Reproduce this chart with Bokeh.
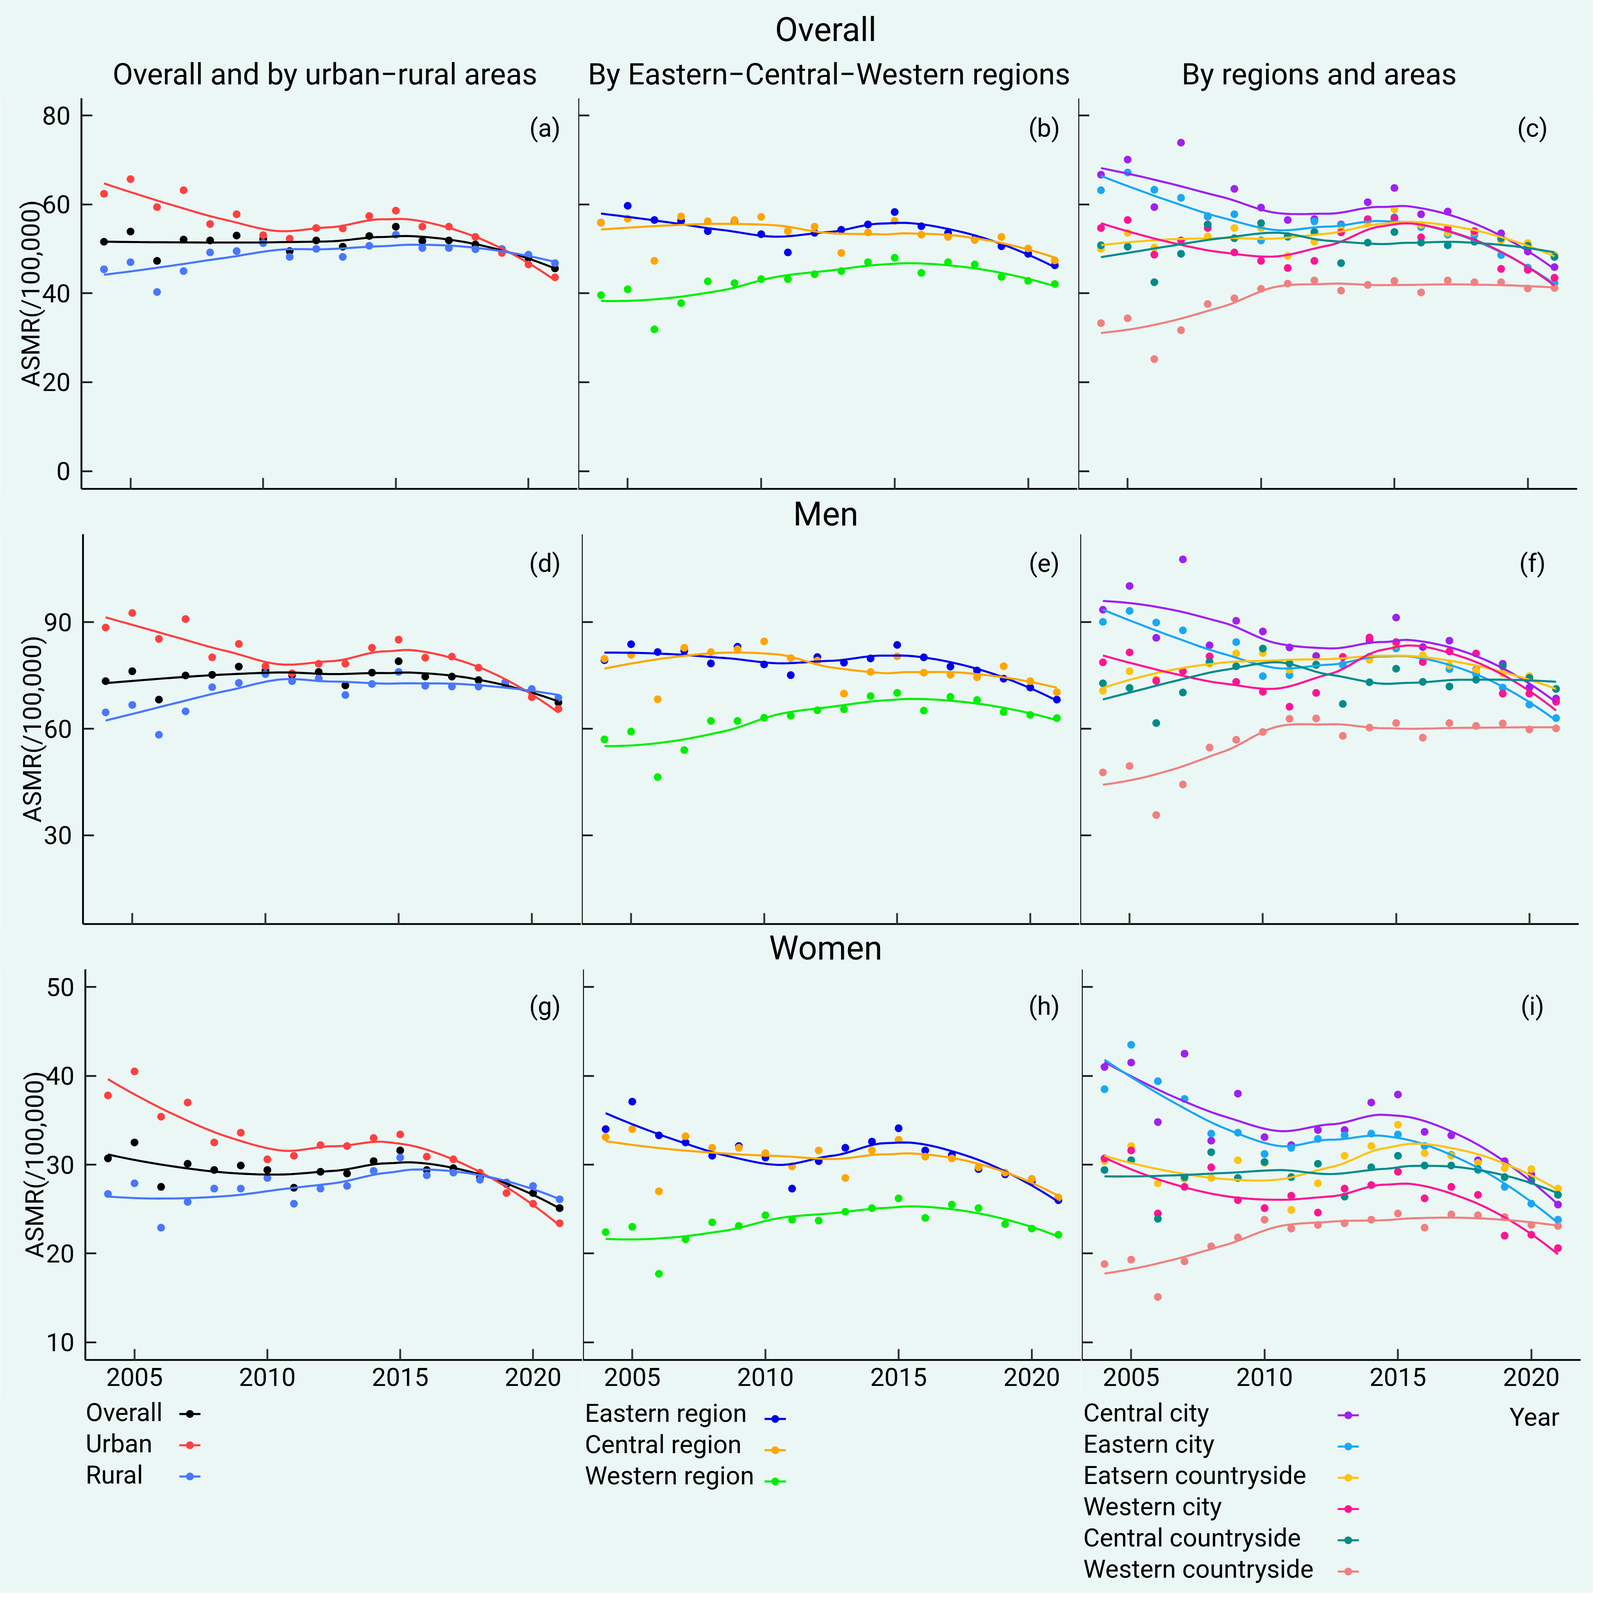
import numpy as np
from bokeh.plotting import figure
from bokeh.layouts import column, row
from bokeh.models import Range1d, FixedTicker
from bokeh.core.properties import value
from bokeh.embed import file_html
from bokeh.resources import INLINE

# ---------------- data ----------------
years = list(range(2004, 2022))

# Overall (both sexes)
a_overall = [51.6, 53.9, 47.3, 52.1, 51.9, 53.0, 52.2, 49.5, 51.9, 50.5, 52.9, 55.0, 51.8, 51.9, 51.0, 49.5, 48.0, 45.6]
a_urban = [62.4, 65.7, 59.4, 63.2, 55.6, 57.8, 53.1, 52.3, 54.7, 54.6, 57.4, 58.6, 55.0, 55.0, 52.7, 49.1, 46.5, 43.6]
a_rural = [45.4, 47.0, 40.3, 45.0, 49.2, 49.5, 51.3, 48.2, 50.0, 48.2, 50.7, 53.2, 50.2, 50.2, 49.9, 50.0, 48.7, 46.8]

b_east = [55.9, 59.7, 56.5, 56.3, 54.0, 56.3, 53.3, 49.2, 53.6, 54.3, 55.5, 58.3, 55.1, 53.6, 52.2, 50.6, 48.9, 46.3]
b_central = [55.9, 56.8, 47.3, 57.3, 56.2, 56.5, 57.2, 54.0, 55.0, 49.1, 53.7, 56.3, 53.2, 52.7, 52.0, 52.7, 50.1, 47.4]
b_west = [39.6, 40.9, 31.9, 37.8, 42.7, 42.3, 43.2, 43.2, 44.3, 45.0, 47.0, 48.0, 44.6, 47.0, 46.5, 43.7, 42.8, 42.1]

c_central_city = [66.7, 70.1, 59.4, 73.9, 57.3, 63.5, 59.3, 56.5, 56.7, 55.5, 60.5, 63.7, 57.8, 58.4, 53.2, 53.5, 49.4, 45.9]
c_eastern_city = [63.2, 67.2, 63.3, 61.5, 57.4, 57.8, 51.9, 52.7, 56.2, 55.3, 56.5, 57.1, 54.9, 53.2, 53.1, 48.6, 45.8, 42.3]
c_eastern_country = [50.0, 53.6, 50.3, 51.9, 52.8, 54.7, 54.7, 48.4, 51.6, 54.2, 55.7, 58.9, 55.4, 53.6, 53.8, 51.9, 51.3, 48.6]
c_western_city = [54.7, 56.5, 48.7, 51.9, 54.7, 49.2, 47.3, 45.7, 47.3, 53.7, 56.7, 56.9, 52.6, 54.6, 54.0, 45.5, 45.3, 43.5]
c_central_country = [50.8, 50.5, 42.5, 48.9, 55.5, 52.4, 55.8, 52.9, 53.8, 46.8, 51.4, 53.8, 51.4, 50.8, 51.6, 52.4, 50.7, 48.2]
c_western_country = [33.3, 34.4, 25.2, 31.7, 37.6, 38.9, 41.0, 42.2, 42.9, 40.6, 41.9, 42.8, 40.2, 42.9, 42.5, 42.5, 41.1, 41.2]

# Men
d_overall = [73.4, 76.2, 68.2, 75.0, 75.2, 77.5, 76.4, 75.1, 76.0, 72.2, 75.8, 79.0, 74.7, 74.7, 73.7, 72.7, 70.4, 67.4]
d_urban = [88.5, 92.6, 85.3, 90.9, 80.1, 83.9, 77.6, 75.6, 78.3, 78.3, 82.8, 85.1, 80.0, 80.3, 77.2, 73.0, 68.9, 65.6]
d_rural = [64.6, 66.7, 58.3, 64.9, 71.7, 72.9, 75.4, 73.4, 74.2, 69.5, 72.6, 76.0, 72.1, 71.9, 71.9, 73.0, 71.2, 68.7]

e_east = [79.3, 83.8, 81.6, 81.9, 78.4, 83.1, 78.1, 75.1, 80.2, 78.6, 79.8, 83.6, 80.1, 77.5, 76.4, 74.1, 71.6, 68.2]
e_central = [79.7, 80.8, 68.3, 82.8, 81.6, 82.4, 84.6, 79.9, 79.2, 69.9, 76.0, 80.4, 75.8, 75.2, 74.5, 77.6, 73.4, 70.3]
e_west = [57.0, 59.2, 46.4, 54.0, 62.2, 62.2, 63.1, 63.7, 65.2, 65.5, 69.2, 70.1, 65.1, 69.0, 68.1, 64.7, 63.9, 63.0]

f_central_city = [93.5, 100.2, 85.6, 107.7, 83.5, 90.4, 87.4, 82.9, 80.5, 78.1, 84.9, 91.3, 83.0, 84.8, 76.6, 78.3, 71.6, 68.5]
f_eastern_city = [90.1, 93.2, 89.9, 87.7, 78.8, 84.4, 74.8, 75.1, 78.1, 78.0, 80.3, 82.6, 80.3, 76.8, 75.3, 71.6, 66.8, 63.0]
f_eastern_country = [70.7, 76.2, 73.9, 76.2, 78.3, 81.2, 81.3, 76.6, 77.9, 80.3, 79.4, 83.6, 80.7, 77.8, 76.4, 75.6, 74.8, 71.2]
f_western_city = [78.7, 81.5, 73.5, 76.2, 80.4, 73.2, 70.4, 66.2, 70.1, 80.2, 85.7, 84.4, 78.8, 81.8, 81.2, 69.9, 69.9, 67.6]
f_central_country = [72.8, 71.5, 61.6, 70.2, 78.8, 77.6, 82.6, 78.4, 78.0, 67.0, 73.1, 76.9, 73.2, 71.9, 73.8, 77.6, 74.3, 71.2]
f_western_country = [47.7, 49.5, 35.7, 44.3, 54.7, 56.9, 59.1, 62.8, 62.9, 58.0, 60.3, 61.6, 57.5, 61.6, 60.8, 61.5, 59.8, 60.1]

# Women
g_overall = [30.7, 32.5, 27.5, 30.1, 29.4, 29.9, 29.4, 27.4, 29.2, 29.0, 30.4, 31.6, 29.4, 29.6, 28.5, 27.8, 26.8, 25.1]
g_urban = [37.8, 40.5, 35.4, 37.0, 32.5, 33.6, 30.6, 31.0, 32.2, 32.1, 33.0, 33.4, 30.9, 30.6, 29.1, 26.8, 25.6, 23.4]
g_rural = [26.7, 27.9, 22.9, 25.8, 27.3, 27.3, 28.5, 25.6, 27.3, 27.6, 29.3, 30.8, 28.8, 29.1, 28.3, 28.0, 27.6, 26.1]

h_east = [34.0, 37.1, 33.3, 32.5, 31.0, 32.1, 30.8, 27.3, 30.4, 31.9, 32.6, 34.1, 31.6, 31.1, 29.5, 28.9, 28.1, 26.0]
h_central = [33.1, 34.0, 27.0, 33.2, 31.9, 31.9, 31.3, 29.8, 31.6, 28.5, 31.6, 32.8, 30.9, 30.7, 29.7, 29.1, 28.4, 26.3]
h_west = [22.4, 23.0, 17.7, 21.6, 23.5, 23.1, 24.3, 23.8, 23.7, 24.7, 25.1, 26.2, 24.0, 25.5, 25.1, 23.3, 22.8, 22.1]

i_central_city = [41.0, 41.5, 34.8, 42.5, 32.7, 38.0, 33.1, 32.2, 33.9, 33.9, 37.0, 37.9, 33.7, 33.3, 30.5, 30.4, 28.9, 25.5]
i_eastern_city = [38.5, 43.5, 39.4, 37.4, 33.5, 33.6, 31.2, 31.9, 32.9, 33.3, 33.5, 33.4, 32.1, 31.1, 29.4, 27.5, 25.6, 23.8]
i_eastern_country = [30.4, 32.1, 27.9, 28.4, 28.5, 30.5, 30.2, 24.9, 27.9, 31.0, 32.1, 34.5, 31.3, 31.0, 30.2, 29.6, 29.5, 27.3]
i_western_city = [30.7, 31.6, 24.5, 27.5, 29.7, 26.0, 25.1, 26.5, 24.6, 27.3, 27.7, 29.2, 26.2, 27.5, 26.6, 22.0, 22.1, 20.6]
i_central_country = [29.4, 30.5, 23.9, 28.6, 31.4, 28.5, 30.3, 28.6, 30.1, 26.4, 29.7, 31.0, 29.9, 29.9, 29.5, 28.6, 28.2, 26.6]
i_western_country = [18.8, 19.3, 15.1, 19.1, 20.8, 21.8, 23.8, 22.8, 23.2, 23.4, 23.8, 24.5, 22.9, 24.4, 24.3, 24.1, 23.2, 23.1]

names_urban = ["Overall", "Urban", "Rural"]
names_region = ["Eastern region", "Central region", "Western region"]
names_area = ["Central city", "Eastern city", "Eatsern countryside", "Western city",
              "Central countryside", "Western countryside"]

row_titles = ["Overall", "Men", "Women"]
col_titles = ["Overall and by urban\u2212rural areas", "By Eastern\u2212Central\u2212Western regions",
              "By regions and areas"]
tags = [["(a)", "(b)", "(c)"], ["(d)", "(e)", "(f)"], ["(g)", "(h)", "(i)"]]
x_ticks = [2005, 2010, 2015, 2020]
y_ticks = [[0, 20, 40, 60, 80], [30, 60, 90], [10, 20, 30, 40, 50]]
y_limits = [(-3.995, 83.895), (5.01, 114.79), (8.0, 52.0)]
x_limits = (2003.15, 2021.85)
y_title = "ASMR(/100,000)"
x_title = "Year"

panel_series = [
    [[a_overall, a_urban, a_rural], [b_east, b_central, b_west],
     [c_central_city, c_eastern_city, c_eastern_country, c_western_city, c_central_country, c_western_country]],
    [[d_overall, d_urban, d_rural], [e_east, e_central, e_west],
     [f_central_city, f_eastern_city, f_eastern_country, f_western_city, f_central_country, f_western_country]],
    [[g_overall, g_urban, g_rural], [h_east, h_central, h_west],
     [i_central_city, i_eastern_city, i_eastern_country, i_western_city, i_central_country, i_western_country]],
]

# ---------------- style ----------------
BG = "#EAF7F5"
FONT = "Roboto"
C_URBAN = ["#000000", "#FF4040", "#4876FF"]
C_REGION = ["#0000EE", "#FFA500", "#00EE00"]
C_AREA = ["#A020F0", "#1AA7F5", "#FFC20E", "#FF1493", "#008B8B", "#F08080"]
COLORS = [C_URBAN, C_REGION, C_AREA]
NAMES = [names_urban, names_region, names_area]

# The screenshot is taken at 1.5 device pixels per CSS pixel.
K = 1.5
ORIG = 8 * K          # page margin in screenshot pixels
TOTAL = 6142


def px(v):
    return v / K


def ipx(v):
    return int(round(v / K))


def fs(v):
    return "%.1fpx" % (v / K)


FS = fs(97)
FS_COL = fs(114)
FS_ROW = fs(128)
PT = px(30)
LW = px(8)
AXW = px(7)
TICK = ipx(42)

# layout geometry in screenshot pixels
GEOM = [
    dict(L=324, B1=2232, B2=4152, R=6068, top=389, bottom=1889, bb=20, tagdy=115),
    dict(L=330, B1=2245, B2=4159, R=6073, top=2062, bottom=3560, bb=20, tagdy=112),
    dict(L=339, B1=2250, B2=4166, R=6081, top=3733, bottom=5233, bb=144, tagdy=142),
]
TAG_X = [2104, 4021, 5896]
WC = int((TOTAL - 2 * ORIG) / K)     # layout width in CSS px


def cpos(v):
    """screenshot x/y -> CSS offset from layout origin"""
    return int(round((v - ORIG) / K))


def spos(c):
    """CSS offset -> screenshot pixel"""
    return ORIG + c * K


def loess_fit(x, y, x0, q):
    d = np.abs(x - x0)
    h = np.sort(d)[q - 1]
    u = np.clip(d / h, 0, 1)
    w = (1 - u ** 3) ** 3
    X = np.vstack([np.ones(len(x)), x - x0, (x - x0) ** 2]).T
    XtW = X.T * w
    beta = np.linalg.solve(XtW @ X, XtW @ y)
    return beta[0], beta[1]


def kd_vertices(xs_sorted, fc):
    cuts = []

    def split(l, u):
        if u - l + 1 <= fc:
            return
        m = (l + u) // 2
        v = (xs_sorted[m] + xs_sorted[m + 1]) / 2.0
        cuts.append(v)
        split(l, m)
        split(m + 1, u)

    split(0, len(xs_sorted) - 1)
    lo, hi = xs_sorted[0], xs_sorted[-1]
    mu = 0.005 * (hi - lo)
    return np.array(sorted([lo - mu] + cuts + [hi + mu]))


def loess(x, y, xs, span=0.75, cell=0.2):
    # loess (degree 2) evaluated on kd-tree vertices with cubic Hermite interpolation
    x = np.asarray(x, float)
    y = np.asarray(y, float)
    n = len(x)
    q = int(np.floor(span * n))
    fc = int(np.floor(n * span * cell))
    verts = kd_vertices(np.sort(x), fc)
    vals = np.array([loess_fit(x, y, v, q) for v in verts])
    out = np.empty(len(xs))
    for i, xx in enumerate(xs):
        j = min(max(np.searchsorted(verts, xx) - 1, 0), len(verts) - 2)
        a, b = verts[j], verts[j + 1]
        hh = b - a
        t = (xx - a) / hh
        f0, d0 = vals[j]
        f1, d1 = vals[j + 1]
        h00 = 2 * t ** 3 - 3 * t ** 2 + 1
        h10 = t ** 3 - 2 * t ** 2 + t
        h01 = -2 * t ** 3 + 3 * t ** 2
        h11 = t ** 3 - t ** 2
        out[i] = h00 * f0 + h10 * hh * d0 + h01 * f1 + h11 * hh * d1
    return out


xs_fine = np.linspace(years[0], years[-1], 80)


def make_panel(r, c):
    g = GEOM[r]
    Lc, B1c, B2c, Rc = cpos(g["L"]), cpos(g["B1"]), cpos(g["B2"]), cpos(g["R"])
    topc, botc = cpos(g["top"]), cpos(g["bottom"])
    if c == 0:
        flc, frc, mbl, mbr = Lc, B1c - 2, Lc, 0
    elif c == 1:
        flc, frc, mbl, mbr = B1c, B2c - 2, 2, 0
    else:
        flc, frc, mbl, mbr = B2c, Rc, 2, WC - Rc
    fw = frc - flc
    fh = botc - topc
    y0, y1 = y_limits[r]
    p = figure(title=None, frame_width=fw, frame_height=fh,
               x_range=Range1d(*x_limits), y_range=Range1d(y0, y1),
               min_border_left=mbl, min_border_right=mbr,
               min_border_top=0, min_border_bottom=ipx(g["bb"]),
               output_backend="svg", toolbar_location=None,
               background_fill_color=BG, border_fill_color=BG,
               outline_line_color=None)
    p.grid.visible = False

    xa = p.xaxis[0]
    xa.ticker = FixedTicker(ticks=x_ticks)
    xa.axis_line_width = AXW
    xa.axis_line_color = "black"
    xa.major_tick_in = TICK
    xa.major_tick_out = 0
    xa.major_tick_line_width = AXW
    xa.major_tick_line_color = "#333333"
    xa.minor_tick_line_color = None
    if r == 2:
        xa.major_label_text_font = FONT
        xa.major_label_text_font_size = FS
        xa.major_label_text_color = "black"
        xa.major_label_standoff = ipx(30)
    else:
        xa.major_label_overrides = {t: "" for t in x_ticks}
        xa.major_label_text_font_size = "0px"
        xa.major_label_standoff = 0

    ya = p.yaxis[0]
    ya.ticker = FixedTicker(ticks=y_ticks[r])
    ya.axis_line_width = AXW
    ya.axis_line_color = "black"
    ya.major_tick_in = TICK
    ya.major_tick_out = 0
    ya.major_tick_line_width = AXW
    ya.major_tick_line_color = "#1a1a1a"
    ya.minor_tick_line_color = None
    if c == 0:
        ya.major_label_text_font = FONT
        ya.major_label_text_font_size = FS
        ya.major_label_text_color = "black"
        ya.major_label_standoff = ipx(42)
        ya.axis_label = y_title
        ya.axis_label_text_font = FONT
        ya.axis_label_text_font_size = FS
        ya.axis_label_text_font_style = "normal"
        ya.axis_label_text_color = "black"
        ya.axis_label_standoff = -12
    else:
        ya.fixed_location = x_limits[0]
        ya.major_label_overrides = {t: "" for t in y_ticks[r]}
        ya.major_label_text_font_size = "0px"
        ya.major_label_standoff = 0

    series = panel_series[r][c]
    cols = COLORS[c]
    for vals, col in zip(series, cols):
        p.scatter(years, vals, size=PT, color=col, line_color=None)
    for vals, col in zip(series, cols):
        p.line(xs_fine, loess(years, vals, xs_fine), line_color=col, line_width=LW)

    fl_s, fr_s = spos(flc), spos(frc)
    tx = x_limits[0] + (TAG_X[c] - fl_s) / (fr_s - fl_s) * (x_limits[1] - x_limits[0])
    ty = y1 - g["tagdy"] / (g["bottom"] - g["top"]) * (y1 - y0)
    p.text(x=[tx], y=[ty], text=[tags[r][c]], text_font=value(FONT), text_font_size=FS,
           text_align="center", text_baseline="middle", text_color="black")
    return p


def band(top_c, bot_c):
    """band spanning CSS rows top_c..bot_c; data coordinates are screenshot pixels"""
    y_top, y_bot = spos(top_c), spos(bot_c)
    b = figure(title=None, width=WC, height=bot_c - top_c,
               x_range=Range1d(ORIG, spos(WC)), y_range=Range1d(y_bot, y_top),
               x_axis_type=None, y_axis_type=None, min_border=0,
               output_backend="svg", toolbar_location=None,
               background_fill_color=BG, border_fill_color=BG,
               outline_line_color=None)
    b.grid.visible = False
    return b


def add_text(b, x, y_mid, txt, size, align="center"):
    b.text(x=[x], y=[y_mid], text=[txt], text_font=value(FONT), text_font_size=size,
           text_align=align, text_baseline="middle", text_color="black")


row_tops = [cpos(g["top"]) for g in GEOM]
row_ends = [cpos(g["bottom"]) + ipx(g["bb"]) for g in GEOM]

# vertical centres (of capital letters) in screenshot pixels
top_band = band(0, row_tops[0])
add_text(top_band, 3182, 125, row_titles[0], FS_ROW)
for cx, t in zip([1259, 3195, 5077], col_titles):
    add_text(top_band, cx, 296, t, FS_COL)

men_band = band(row_ends[0], row_tops[1])
add_text(men_band, 3182, 1985, row_titles[1], FS_ROW)

women_band = band(row_ends[1], row_tops[2])
add_text(women_band, 3182, 3651, row_titles[2], FS_ROW)

HC = int((TOTAL - 2 * ORIG) / K)
leg_band = band(row_ends[2], HC)
LEG = [
    dict(tx=340, mid=5435, kx0=700, kx1=781, kdy=6),
    dict(tx=2257, mid=5438, kx0=2947, kx1=3029, kdy=22),
    dict(tx=4171, mid=5437, kx0=5148, kx1=5229, kdy=9),
]
STEP = 120
for li, lg in enumerate(LEG):
    for k, (nm, col) in enumerate(zip(NAMES[li], COLORS[li])):
        ym = lg["mid"] + k * STEP
        add_text(leg_band, lg["tx"], ym, nm, FS, align="left")
        ky = ym + lg["kdy"]
        leg_band.line([lg["kx0"], lg["kx1"]], [ky, ky], line_color=col, line_width=LW)
        leg_band.scatter([(lg["kx0"] + lg["kx1"]) / 2], [ky], size=PT, color=col, line_color=None)
add_text(leg_band, 6000, 5453, x_title, FS, align="right")

rows = []
for r in range(3):
    rows.append(row(*[make_panel(r, c) for c in range(3)], spacing=0))

layout = column(top_band, rows[0], men_band, rows[1], women_band, rows[2], leg_band, spacing=0)

open("out.html", "w").write(file_html(layout, INLINE))
